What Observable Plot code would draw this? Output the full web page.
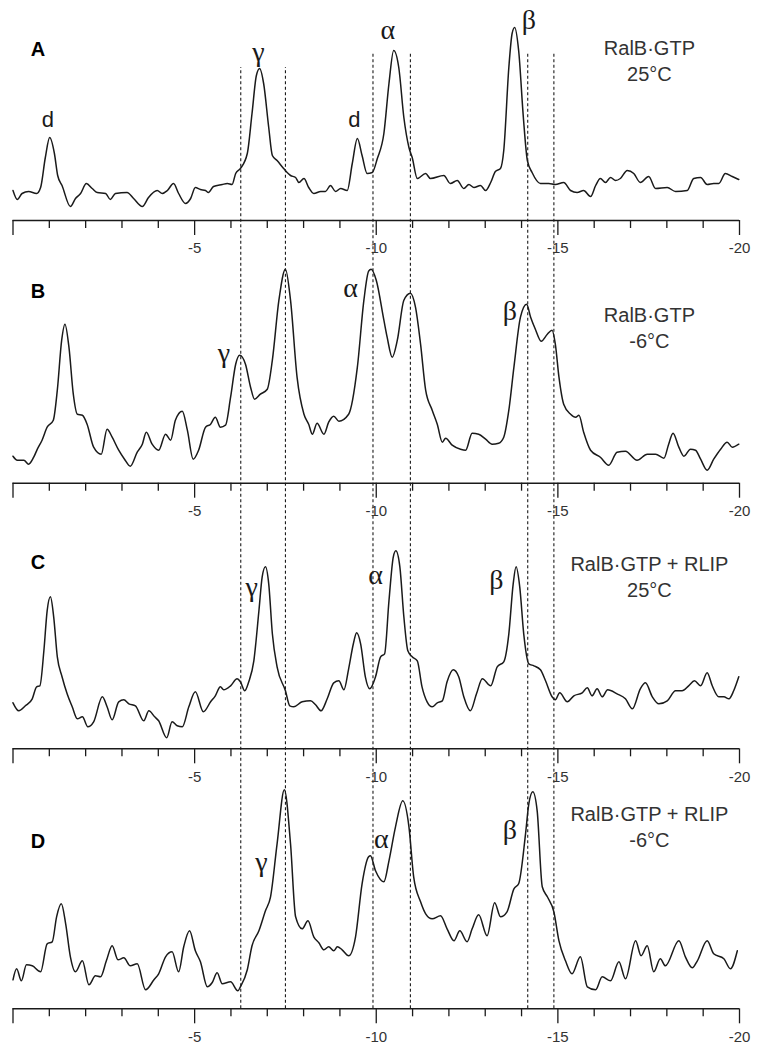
<!DOCTYPE html>
<html><head><meta charset="utf-8">
<script src="https://cdn.jsdelivr.net/npm/d3@7"></script>
<script src="https://cdn.jsdelivr.net/npm/@observablehq/plot@0.6"></script>
<style>html,body{margin:0;padding:0;background:#fff}#chart svg{display:block}</style>
</head><body><div id="chart"></div>
<script>
// ---- data: chemical shift (ppm) and intensity (arbitrary units) ----
const shiftA = [0,-0.12,-0.25,-0.43,-0.65,-0.76,-0.89,-1.01,-1.14,-1.23,-1.35,-1.58,-1.72,-1.86,-2.02,-2.18,-2.32,-2.55,-2.68,-2.82,-3.14,-3.32,-3.56,-3.73,-3.97,-4.11,-4.25,-4.42,-4.56,-4.75,-4.89,-5.02,-5.16,-5.30,-5.38,-5.52,-5.76,-5.90,-6.03,-6.13,-6.26,-6.45,-6.58,-6.70,-6.79,-6.90,-7.04,-7.14,-7.27,-7.45,-7.64,-7.78,-7.87,-8.01,-8.14,-8.28,-8.47,-8.60,-8.74,-8.88,-9.02,-9.20,-9.34,-9.48,-9.61,-9.75,-9.89,-10.03,-10.21,-10.35,-10.48,-10.62,-10.76,-10.90,-10.99,-11.13,-11.36,-11.49,-11.86,-12.04,-12.23,-12.41,-12.55,-12.69,-12.87,-13.01,-13.15,-13.28,-13.42,-13.51,-13.65,-13.74,-13.81,-13.92,-14.05,-14.16,-14.29,-14.52,-14.75,-14.93,-15.16,-15.35,-15.53,-15.71,-15.90,-16.04,-16.17,-16.31,-16.45,-16.59,-16.72,-16.91,-17.09,-17.27,-17.50,-17.69,-18.01,-18.24,-18.56,-18.74,-18.93,-19.11,-19.29,-19.43,-19.61,-19.80,-19.98];
const intensityA = [30,21,27,29,27,33,63,83,67,45,35,14,22,27,37,32,28,27,21,27,28,22,14,23,30,27,30,37,27,17,22,33,31,30,28,34,36,37,36,47,52,67,107,145,152,137,93,65,60,52,45,43,38,42,33,27,29,29,35,29,32,30,57,82,65,47,48,62,87,137,170,153,103,73,63,42,47,42,45,37,40,32,36,33,35,30,38,49,52,70,153,187,193,170,103,60,48,37,37,36,38,30,28,30,24,35,42,38,43,40,42,50,47,38,44,32,33,29,30,42,43,36,37,37,47,44,41];

const shiftB = [0,-0.12,-0.30,-0.43,-0.57,-0.67,-0.80,-0.94,-1.11,-1.22,-1.34,-1.43,-1.54,-1.66,-1.77,-1.91,-2.04,-2.22,-2.43,-2.59,-2.73,-2.91,-3.07,-3.23,-3.42,-3.56,-3.67,-3.83,-4.01,-4.20,-4.34,-4.47,-4.66,-4.80,-4.96,-5.11,-5.30,-5.44,-5.57,-5.71,-5.85,-5.99,-6.13,-6.24,-6.40,-6.54,-6.65,-6.81,-7.00,-7.14,-7.32,-7.50,-7.64,-7.82,-8.01,-8.14,-8.24,-8.37,-8.56,-8.69,-8.83,-8.97,-9.24,-9.48,-9.66,-9.79,-9.86,-10.00,-10.21,-10.30,-10.44,-10.58,-10.76,-10.94,-11.08,-11.22,-11.36,-11.54,-11.68,-11.82,-11.91,-12.09,-12.32,-12.46,-12.64,-12.82,-13.01,-13.19,-13.37,-13.51,-13.65,-13.79,-13.97,-14.14,-14.25,-14.38,-14.54,-14.71,-14.84,-14.93,-15.03,-15.16,-15.35,-15.49,-15.58,-15.71,-15.90,-16.17,-16.40,-16.63,-16.86,-17.18,-17.46,-17.69,-17.92,-18.05,-18.17,-18.33,-18.47,-18.65,-18.79,-18.93,-19.11,-19.29,-19.48,-19.66,-19.80,-19.98];
const intensityB = [27,23,23,19,26,34,43,56,63,93,143,159,136,89,69,68,59,36,29,54,46,33,24,17,31,39,51,39,33,49,43,63,72,53,24,33,56,59,66,56,58,86,119,128,119,96,84,89,94,123,183,214,183,106,69,59,49,60,49,61,67,62,69,116,183,212,214,203,163,146,126,143,183,190,176,139,93,73,59,41,45,38,34,33,50,49,44,39,40,46,73,116,166,179,166,154,142,149,153,139,106,79,69,66,68,51,33,26,18,31,32,23,29,29,25,39,50,36,27,34,33,24,13,24,34,41,36,39];

const shiftC = [0,-0.16,-0.34,-0.53,-0.65,-0.74,-0.85,-0.94,-1.03,-1.12,-1.22,-1.35,-1.49,-1.63,-1.77,-1.91,-2.06,-2.22,-2.46,-2.59,-2.73,-2.91,-3.05,-3.19,-3.37,-3.60,-3.74,-3.90,-4.01,-4.23,-4.38,-4.52,-4.66,-4.84,-5.02,-5.24,-5.44,-5.57,-5.71,-5.80,-5.99,-6.17,-6.26,-6.38,-6.49,-6.63,-6.77,-6.86,-6.95,-7.04,-7.14,-7.27,-7.50,-7.62,-7.73,-7.96,-8.19,-8.33,-8.48,-8.65,-8.83,-8.97,-9.11,-9.24,-9.37,-9.46,-9.57,-9.70,-9.82,-9.98,-10.12,-10.23,-10.35,-10.47,-10.54,-10.65,-10.76,-10.87,-10.99,-11.13,-11.26,-11.40,-11.54,-11.68,-11.82,-11.95,-12.12,-12.27,-12.41,-12.59,-12.76,-12.92,-13.15,-13.33,-13.51,-13.65,-13.77,-13.85,-13.95,-14.06,-14.20,-14.34,-14.52,-14.66,-14.84,-14.93,-15.05,-15.26,-15.44,-15.67,-15.81,-15.94,-16.08,-16.22,-16.37,-16.63,-16.86,-17.05,-17.27,-17.41,-17.60,-17.78,-18.01,-18.24,-18.42,-18.60,-18.76,-18.93,-19.11,-19.25,-19.43,-19.57,-19.71,-19.84,-19.98];
const intensityC = [46,38,43,50,62,63,98,138,152,132,92,72,55,42,30,32,22,27,52,42,29,47,49,45,43,28,38,32,28,11,27,23,22,42,57,37,47,53,62,59,63,70,67,58,67,88,138,172,182,165,115,82,58,43,42,47,48,44,38,50,66,68,59,80,105,116,105,72,60,72,92,95,148,192,198,182,132,98,92,88,62,47,42,46,48,67,79,72,52,38,55,70,63,82,87,115,165,182,162,115,85,83,79,68,52,49,56,47,53,56,61,53,60,52,59,55,50,40,60,66,52,45,48,58,58,63,68,63,76,63,52,52,50,58,72];

const shiftD = [0,-0.10,-0.23,-0.37,-0.53,-0.76,-0.94,-1.08,-1.20,-1.33,-1.45,-1.58,-1.72,-1.91,-2.09,-2.27,-2.41,-2.57,-2.73,-2.89,-3.05,-3.23,-3.42,-3.65,-3.88,-4.01,-4.20,-4.38,-4.56,-4.70,-4.86,-5.02,-5.16,-5.35,-5.48,-5.62,-5.76,-5.99,-6.19,-6.26,-6.45,-6.58,-6.77,-6.95,-7.09,-7.27,-7.47,-7.64,-7.78,-7.96,-8.12,-8.28,-8.42,-8.56,-8.69,-8.83,-8.93,-9.06,-9.24,-9.43,-9.61,-9.79,-9.84,-9.98,-10.21,-10.35,-10.53,-10.73,-10.90,-11.03,-11.22,-11.36,-11.54,-11.77,-11.95,-12.14,-12.30,-12.50,-12.64,-12.82,-13.05,-13.26,-13.42,-13.60,-13.79,-13.92,-14.11,-14.20,-14.31,-14.43,-14.57,-14.71,-14.89,-15.03,-15.21,-15.39,-15.62,-15.81,-16.04,-16.22,-16.45,-16.68,-16.86,-17.14,-17.29,-17.46,-17.64,-17.82,-17.96,-18.33,-18.51,-18.70,-18.84,-19.11,-19.29,-19.57,-19.75,-19.94];
const intensityD = [29,40,28,44,43,37,65,67,92,105,85,52,37,48,24,33,32,48,63,49,51,43,45,19,29,35,52,57,37,62,78,58,47,22,26,36,25,27,18,22,39,63,78,98,112,165,219,165,92,80,88,72,66,59,62,58,62,59,53,72,125,152,153,138,127,148,182,208,182,132,107,95,90,93,80,68,78,67,80,94,73,106,92,97,120,125,175,205,217,198,122,112,97,68,48,35,52,22,19,32,28,47,30,68,53,63,37,50,43,68,52,41,48,68,55,50,40,58];

// ---- categories / labels ----
const panelLetters = ["A", "B", "C", "D"];
const conditionLabels = ["RalB·GTP\n25°C", "RalB·GTP\n-6°C", "RalB·GTP + RLIP\n25°C", "RalB·GTP + RLIP\n-6°C"];
const tickValues = d3.range(0, -21, -1);
const tickLabelValues = [-5, -10, -15, -20];
const tickLabels = ["-5", "-10", "-15", "-20"];
// reference shifts marked by dashed lines
const referenceShifts = [-6.27, -7.5, -9.91, -10.94, -14.17, -14.89];
// peak assignments: panel index, label, shift, label height (intensity units)
const peakPanel  = [0, 0, 0, 0, 0, 1, 1, 1, 2, 2, 2, 3, 3, 3];
const peakLabel  = ["d", "γ", "d", "α", "β", "γ", "α", "β", "γ", "α", "β", "γ", "α", "β"];
const peakShift  = [-0.96, -6.76, -9.40, -10.32, -14.2, -5.81, -9.29, -13.68, -6.57, -9.98, -13.31, -6.84, -10.14, -13.68];
const peakHeight = [101, 168, 101, 190, 200, 130, 195, 172, 162, 174, 169, 147, 170, 179];

// ---- layout (vertical stacking of the four spectra) ----
const W = 758, H = 1049;
const baseline = [829, 566.3, 300.7, 40.7];
const letterHeight = [171, 192, 186, 167];
const conditionHeight = [161, 157, 173, 183];
const refTop = [982, 982, 997, 997, 997, 997];

const spectra = [[shiftA, intensityA], [shiftB, intensityB], [shiftC, intensityC], [shiftD, intensityD]];
const traceRows = spectra.flatMap(([s, v], p) => s.map((x, i) => ({panel: p, x, y: baseline[p] + v[i]})));
const tickRows = baseline.flatMap((b, p) => tickValues.map(t => ({x: t, y1: b, y2: b - (t % 5 === 0 ? 15 : 8)})));
const tickLabelRows = baseline.flatMap(b => tickLabelValues.map((t, i) => ({x: t, y: b - 28, text: tickLabels[i]})));
const axisRows = baseline.map(b => ({y: b}));
const peakRows = peakLabel.map((l, i) => ({x: peakShift[i], y: baseline[peakPanel[i]] + peakHeight[i], text: l}));
const greekRows = peakRows.filter(d => d.text !== "d");
const dRows = peakRows.filter(d => d.text === "d");
const letterRows = panelLetters.map((l, p) => ({x: -0.69, y: baseline[p] + letterHeight[p], text: l}));
const condRows = conditionLabels.map((l, p) => ({x: -17.52, y: baseline[p] + conditionHeight[p], text: l}));
const refRows = referenceShifts.map((x, i) => ({x, y1: baseline[3], y2: refTop[i]}));

const ink = "#1a1a1a";
const chart = Plot.plot({
  width: W, height: H,
  marginTop: 0, marginBottom: 0, marginLeft: 12.5, marginRight: 19,
  x: {domain: [0, -20], axis: null},
  y: {domain: [0, H], axis: null},
  style: {background: "#fff", color: ink},
  marks: [
    Plot.ruleX(refRows, {x: "x", y1: "y1", y2: "y2", stroke: ink, strokeWidth: 1.1, strokeDasharray: "3,2.5"}),
    Plot.ruleY(axisRows, {y: "y", x1: 0, x2: -20, stroke: ink, strokeWidth: 1.4}),
    Plot.ruleX(tickRows, {x: "x", y1: "y1", y2: "y2", stroke: ink, strokeWidth: 1.3}),
    Plot.text(tickLabelRows, {x: "x", y: "y", text: "text", fontSize: 15, fontFamily: "Liberation Sans, Arial, sans-serif", fill: "#333"}),
    Plot.line(traceRows, {x: "x", y: "y", z: "panel", stroke: ink, strokeWidth: 1.5, curve: "monotone-x"}),
    Plot.text(greekRows, {x: "x", y: "y", text: "text", fontSize: 28, fontFamily: "Liberation Serif, Times New Roman, serif", fill: ink}),
    Plot.text(dRows, {x: "x", y: "y", text: "text", fontSize: 22, fontFamily: "Liberation Sans, Arial, sans-serif", fill: ink}),
    Plot.text(letterRows, {x: "x", y: "y", text: "text", fontSize: 20, fontWeight: "bold", fontFamily: "Liberation Sans, Arial, sans-serif", fill: "#000"}),
    Plot.text(condRows, {x: "x", y: "y", text: "text", fontSize: 20, lineHeight: 1.3, fontFamily: "Liberation Sans, Arial, sans-serif", fill: "#333"})
  ]
});
document.getElementById("chart").appendChild(chart);
</script></body></html>
